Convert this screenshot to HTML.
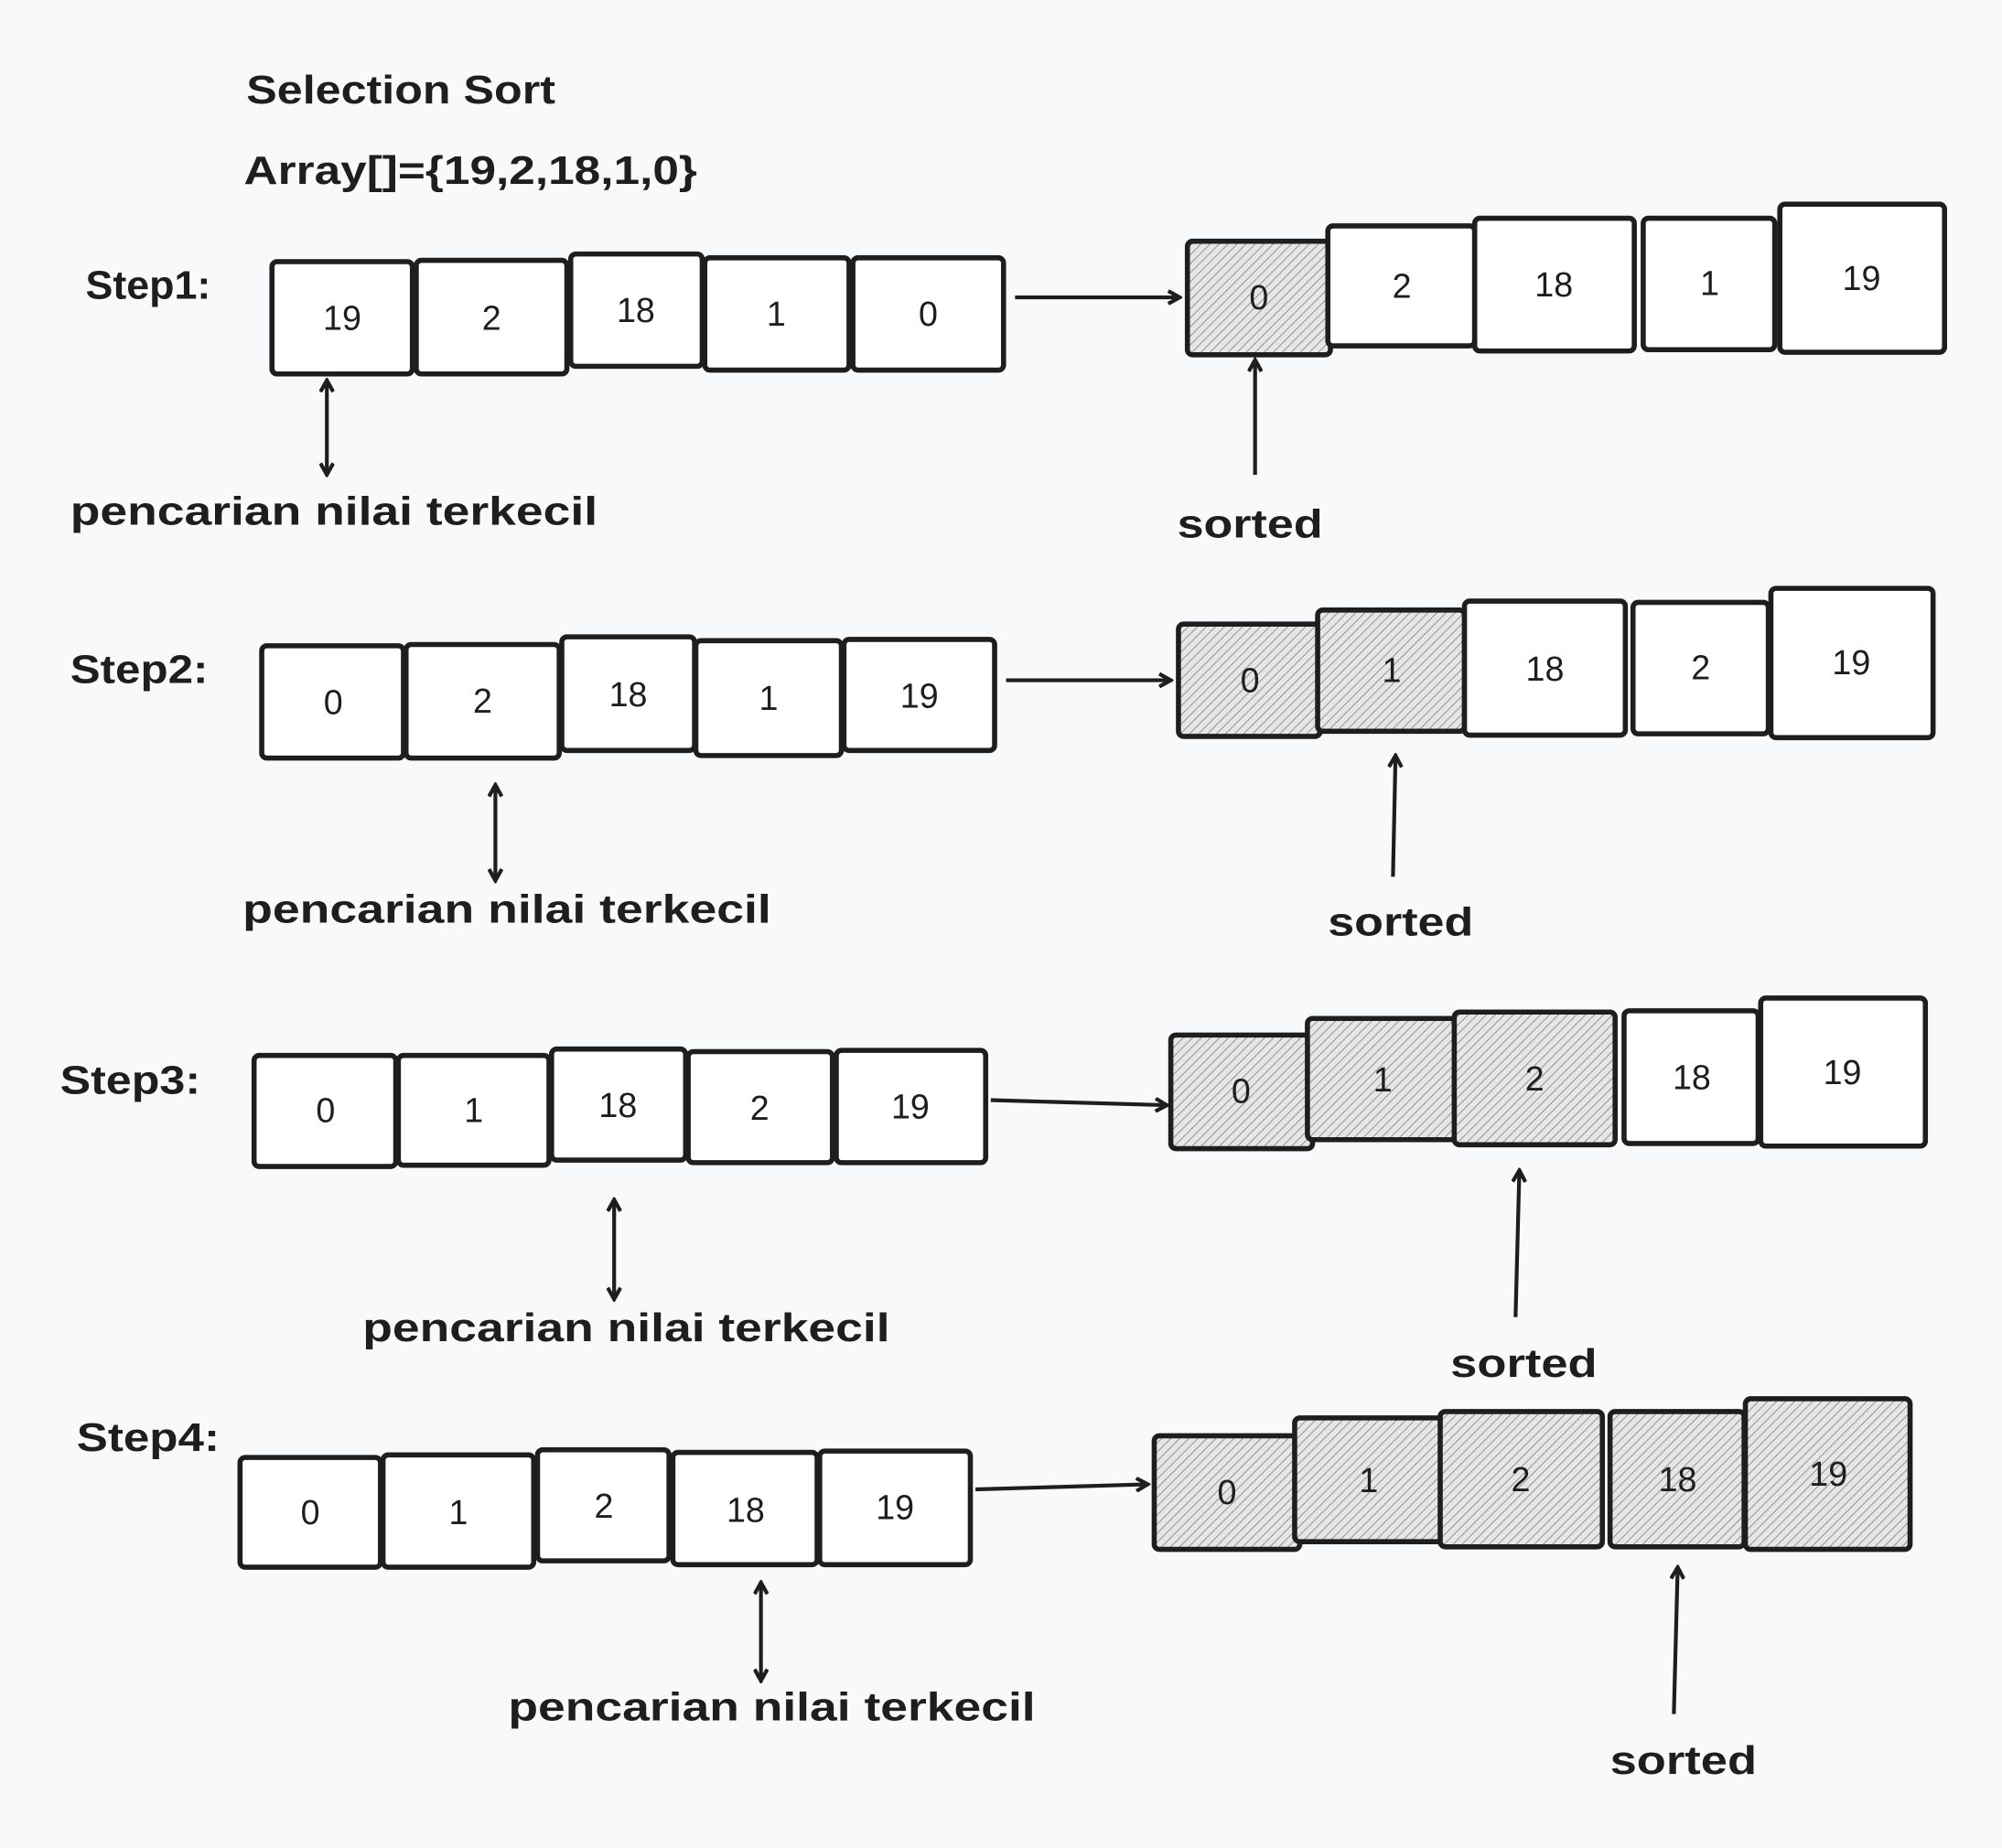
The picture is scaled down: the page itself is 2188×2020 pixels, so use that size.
<!DOCTYPE html>
<html><head><meta charset="utf-8">
<style>
html,body{margin:0;padding:0;background:#f8f9fb;}
svg{display:block;}
text{font-family:"Liberation Sans",sans-serif;fill:#1e1e1e;}
.t{font-size:31px;font-weight:bold;}
.n{font-size:27px;text-anchor:middle;dominant-baseline:central;}
.b{fill:#fff;stroke:#1e1e1e;stroke-width:4;}
.h{fill:url(#hatch);stroke:#1e1e1e;stroke-width:4;}
.l{stroke:#1e1e1e;stroke-width:3;fill:none;}
</style></head>
<body>
<svg width="2188" height="2020" viewBox="0 0 1568 1448" preserveAspectRatio="none" xmlns="http://www.w3.org/2000/svg">
<defs>
<pattern id="hatch" width="5" height="5" patternUnits="userSpaceOnUse" patternTransform="rotate(45)">
<rect width="5" height="5" fill="#e6e6e6"/>
<line x1="0" y1="0" x2="0" y2="5" stroke="#8a8a8a" stroke-width="1.3"/>
</pattern>
<marker id="ah" markerWidth="12" markerHeight="12" refX="10" refY="6" orient="auto" markerUnits="userSpaceOnUse">
<path d="M1,1 L10,6 L1,11" fill="none" stroke="#1e1e1e" stroke-width="3"/>
</marker>
<marker id="as" markerWidth="12" markerHeight="12" refX="2" refY="6" orient="auto" markerUnits="userSpaceOnUse">
<path d="M11,1 L2,6 L11,11" fill="none" stroke="#1e1e1e" stroke-width="3"/>
</marker>
</defs>
<rect width="1568" height="1448" fill="#f8f9fb"/>
<text class="t" x="193" y="81" textLength="242" lengthAdjust="spacingAndGlyphs">Selection Sort</text>
<text class="t" x="191" y="144" textLength="355" lengthAdjust="spacingAndGlyphs">Array[]={19,2,18,1,0}</text>

<!-- Step1 -->
<text class="t" x="67" y="234" textLength="98" lengthAdjust="spacingAndGlyphs">Step1:</text>
<g>
<rect class="b" x="213" y="205" width="110" height="88" rx="4"/><text class="n" x="268" y="249">19</text>
<rect class="b" x="326" y="204" width="118" height="89" rx="4"/><text class="n" x="385" y="249">2</text>
<rect class="b" x="447" y="199" width="103" height="88" rx="4"/><text class="n" x="498" y="243">18</text>
<rect class="b" x="552" y="202" width="113" height="88" rx="4"/><text class="n" x="608" y="246">1</text>
<rect class="b" x="668" y="202" width="118" height="88" rx="4"/><text class="n" x="727" y="246">0</text>
<line class="l" x1="795" y1="233" x2="924" y2="233" marker-end="url(#ah)"/>
<rect class="h" x="930" y="189" width="112" height="89" rx="4"/><text class="n" x="986" y="233">0</text>
<rect class="b" x="1040" y="177" width="115" height="94" rx="4"/><text class="n" x="1098" y="224">2</text>
<rect class="b" x="1155" y="171" width="125" height="104" rx="4"/><text class="n" x="1217" y="223">18</text>
<rect class="b" x="1287" y="171" width="103" height="103" rx="4"/><text class="n" x="1339" y="222">1</text>
<rect class="b" x="1394" y="160" width="129" height="116" rx="4"/><text class="n" x="1458" y="218">19</text>
<line class="l" x1="256" y1="298" x2="256" y2="372" marker-start="url(#as)" marker-end="url(#ah)"/>
<text class="t" x="55" y="411" textLength="413" lengthAdjust="spacingAndGlyphs">pencarian nilai terkecil</text>
<line class="l" x1="983" y1="372" x2="983" y2="282" marker-end="url(#ah)"/>
<text class="t" x="922" y="421" textLength="114" lengthAdjust="spacingAndGlyphs">sorted</text>
</g>

<!-- Step2 -->
<text class="t" x="55" y="535" textLength="108" lengthAdjust="spacingAndGlyphs">Step2:</text>
<g>
<rect class="b" x="205" y="506" width="111" height="88" rx="4"/><text class="n" x="261" y="550">0</text>
<rect class="b" x="318" y="505" width="120" height="89" rx="4"/><text class="n" x="378" y="549">2</text>
<rect class="b" x="440" y="499" width="104" height="89" rx="4"/><text class="n" x="492" y="544">18</text>
<rect class="b" x="545" y="502" width="114" height="90" rx="4"/><text class="n" x="602" y="547">1</text>
<rect class="b" x="661" y="501" width="118" height="87" rx="4"/><text class="n" x="720" y="545">19</text>
<line class="l" x1="788" y1="533" x2="917" y2="533" marker-end="url(#ah)"/>
<rect class="h" x="923" y="489" width="111" height="88" rx="4"/><text class="n" x="979" y="533">0</text>
<rect class="h" x="1032" y="478" width="115" height="95" rx="4"/><text class="n" x="1090" y="525">1</text>
<rect class="b" x="1147" y="471" width="126" height="105" rx="4"/><text class="n" x="1210" y="524">18</text>
<rect class="b" x="1279" y="472" width="106" height="103" rx="4"/><text class="n" x="1332" y="523">2</text>
<rect class="b" x="1387" y="461" width="127" height="117" rx="4"/><text class="n" x="1450" y="519">19</text>
<line class="l" x1="388" y1="615" x2="388" y2="690" marker-start="url(#as)" marker-end="url(#ah)"/>
<text class="t" x="190" y="723" textLength="414" lengthAdjust="spacingAndGlyphs">pencarian nilai terkecil</text>
<line class="l" x1="1091" y1="687" x2="1093" y2="592" marker-end="url(#ah)"/>
<text class="t" x="1040" y="733" textLength="114" lengthAdjust="spacingAndGlyphs">sorted</text>
</g>

<!-- Step3 -->
<text class="t" x="47" y="857" textLength="110" lengthAdjust="spacingAndGlyphs">Step3:</text>
<g>
<rect class="b" x="199" y="827" width="111" height="87" rx="4"/><text class="n" x="255" y="870">0</text>
<rect class="b" x="312" y="827" width="118" height="86" rx="4"/><text class="n" x="371" y="870">1</text>
<rect class="b" x="432" y="822" width="105" height="87" rx="4"/><text class="n" x="484" y="866">18</text>
<rect class="b" x="539" y="824" width="113" height="87" rx="4"/><text class="n" x="595" y="868">2</text>
<rect class="b" x="655" y="823" width="117" height="88" rx="4"/><text class="n" x="713" y="867">19</text>
<line class="l" x1="776" y1="862" x2="914" y2="866" marker-end="url(#ah)"/>
<rect class="h" x="917" y="811" width="111" height="89" rx="4"/><text class="n" x="972" y="855">0</text>
<rect class="h" x="1024" y="798" width="116" height="95" rx="4"/><text class="n" x="1083" y="846">1</text>
<rect class="h" x="1139" y="793" width="126" height="104" rx="4"/><text class="n" x="1202" y="845">2</text>
<rect class="b" x="1272" y="792" width="105" height="104" rx="4"/><text class="n" x="1325" y="844">18</text>
<rect class="b" x="1379" y="782" width="129" height="116" rx="4"/><text class="n" x="1443" y="840">19</text>
<line class="l" x1="481" y1="940" x2="481" y2="1018" marker-start="url(#as)" marker-end="url(#ah)"/>
<text class="t" x="284" y="1051" textLength="413" lengthAdjust="spacingAndGlyphs">pencarian nilai terkecil</text>
<line class="l" x1="1187" y1="1032" x2="1190" y2="917" marker-end="url(#ah)"/>
<text class="t" x="1136" y="1079" textLength="115" lengthAdjust="spacingAndGlyphs">sorted</text>
</g>

<!-- Step4 -->
<text class="t" x="60" y="1137" textLength="112" lengthAdjust="spacingAndGlyphs">Step4:</text>
<g>
<rect class="b" x="188" y="1142" width="110" height="86" rx="4"/><text class="n" x="243" y="1185">0</text>
<rect class="b" x="300" y="1140" width="118" height="88" rx="4"/><text class="n" x="359" y="1185">1</text>
<rect class="b" x="421" y="1136" width="103" height="87" rx="4"/><text class="n" x="473" y="1180">2</text>
<rect class="b" x="527" y="1138" width="113" height="88" rx="4"/><text class="n" x="584" y="1183">18</text>
<rect class="b" x="642" y="1137" width="118" height="89" rx="4"/><text class="n" x="701" y="1181">19</text>
<line class="l" x1="764" y1="1167" x2="899" y2="1163" marker-end="url(#ah)"/>
<rect class="h" x="904" y="1125" width="114" height="89" rx="4"/><text class="n" x="961" y="1169">0</text>
<rect class="h" x="1014" y="1111" width="116" height="97" rx="4"/><text class="n" x="1072" y="1160">1</text>
<rect class="h" x="1128" y="1106" width="127" height="106" rx="4"/><text class="n" x="1191" y="1159">2</text>
<rect class="h" x="1261" y="1106" width="105" height="106" rx="4"/><text class="n" x="1314" y="1159">18</text>
<rect class="h" x="1367" y="1096" width="129" height="118" rx="4"/><text class="n" x="1432" y="1155">19</text>
<line class="l" x1="596" y1="1240" x2="596" y2="1317" marker-start="url(#as)" marker-end="url(#ah)"/>
<text class="t" x="398" y="1348" textLength="413" lengthAdjust="spacingAndGlyphs">pencarian nilai terkecil</text>
<line class="l" x1="1311" y1="1343" x2="1314" y2="1228" marker-end="url(#ah)"/>
<text class="t" x="1261" y="1390" textLength="115" lengthAdjust="spacingAndGlyphs">sorted</text>
</g>
</svg>
</body></html>
